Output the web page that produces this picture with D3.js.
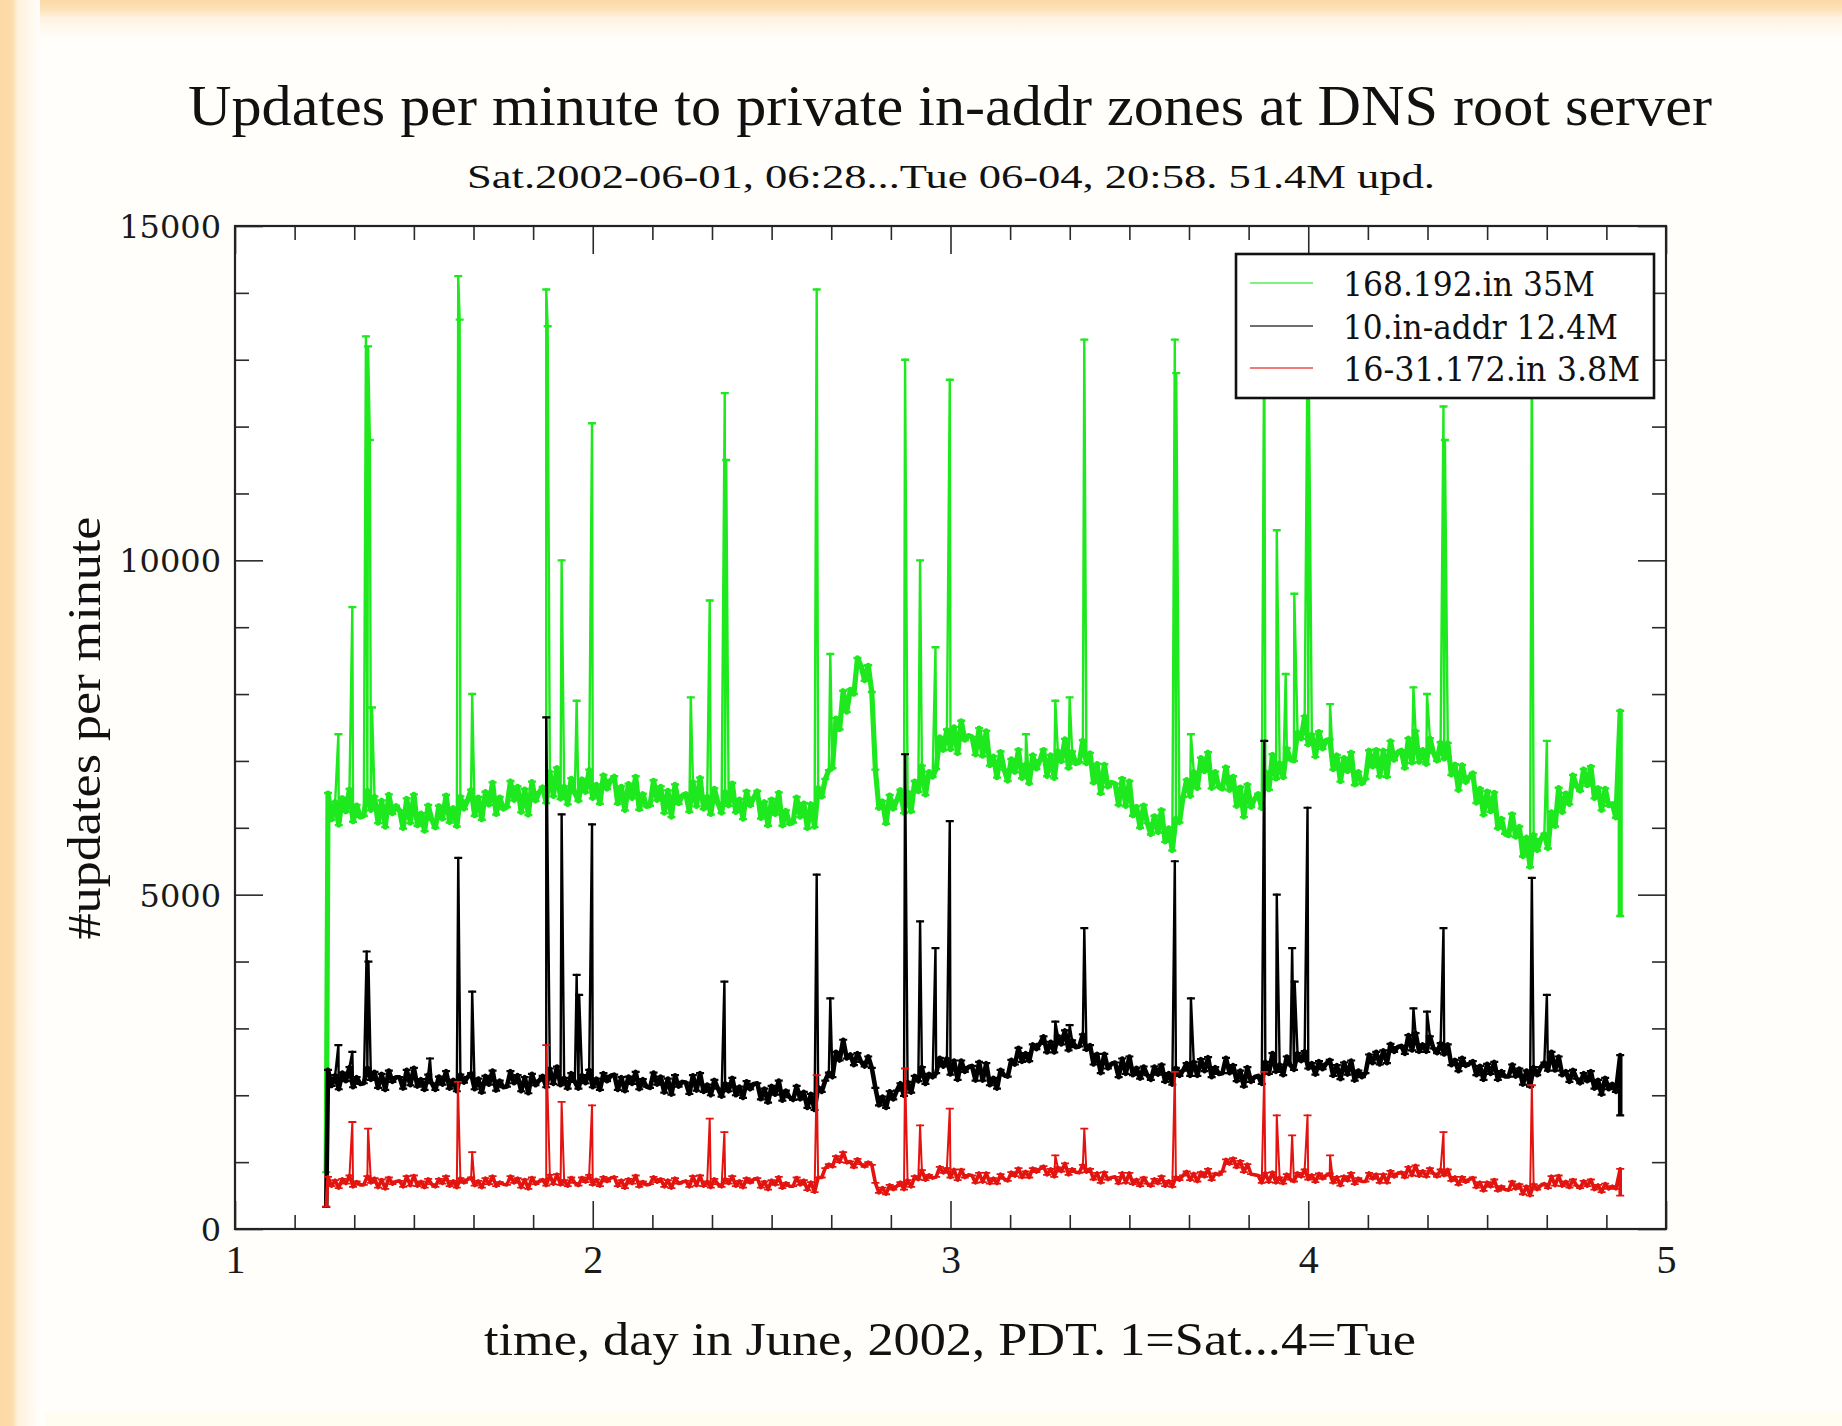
<!DOCTYPE html>
<html>
<head>
<meta charset="utf-8">
<script src="https://cdn.jsdelivr.net/npm/d3@7"></script>
<style>
html,body{margin:0;padding:0;background:#fffefb;}
svg{display:block;}
</style>
</head>
<body>
<svg id="chart" width="1842" height="1426"></svg>
<script>
// ---------------- data ----------------
const titleText = "Updates per minute to private in-addr zones at DNS root server";
const subtitleText = "Sat.2002-06-01, 06:28...Tue 06-04, 20:58. 51.4M upd.";
const xAxisTitle = "time, day in June, 2002, PDT. 1=Sat...4=Tue";
const yAxisTitle = "#updates per minute";

const xDomain = [1, 5];
const yDomain = [0, 15000];
const xTickValues = [1, 2, 3, 4, 5];
const xTickLabels = ["1", "2", "3", "4", "5"];
const yTickValues = [0, 5000, 10000, 15000];
const yTickLabels = ["0", "5000", "10000", "15000"];
const yMinorTicks = [1000, 2000, 3000, 4000, 6000, 7000, 8000, 9000, 11000, 12000, 13000, 14000];

const seriesNames = ["168.192.in 35M", "10.in-addr 12.4M", "16-31.172.in 3.8M"];
const seriesColors = ["#1ee81e", "#000000", "#e3140f"];

// sampled every 0.01 day starting at day 1.26
const firstDay = 1.26;
const dayStep = 0.01;
const startDay = 1.255;
const endDay = 4.872;

const greenValues = [
6520,6120,6390,6040,6450,6240,6580,6090,6340,6160,
6180,6560,6260,6470,6070,6410,6010,6500,6210,6330,
6260,5990,6440,6070,6500,6030,6220,5950,6340,6120,
6000,6330,6130,6490,6080,6300,6020,6470,6280,6410,
6570,6180,6460,6120,6540,6340,6680,6200,6460,6280,
6310,6700,6410,6620,6230,6580,6190,6690,6400,6530,
6610,6370,6840,6470,6900,6430,6620,6350,6740,6520,
6400,6730,6530,6870,6440,6650,6360,6790,6580,6710,
6770,6360,6620,6260,6660,6440,6770,6270,6510,6320,
6330,6710,6410,6620,6220,6560,6160,6650,6360,6480,
6510,6240,6690,6320,6750,6280,6470,6200,6590,6370,
6220,6540,6330,6670,6230,6430,6130,6550,6330,6450,
6550,6140,6390,6030,6430,6200,6530,6030,6260,6060,
6080,6460,6160,6370,5990,6360,6010,6600,6460,6730,
6860,6890,7640,7470,8050,7730,8070,8000,8540,8420,
8200,8430,8030,6870,6290,6400,6060,6490,6280,6410,
6570,6220,6540,6240,6700,6540,6930,6490,6840,6760,
6880,7360,7160,7470,7170,7510,7110,7600,7310,7380,
7360,7090,7490,7070,7450,6930,7070,6750,7140,6870,
6700,7030,6830,7170,6740,6950,6660,7090,6880,7010,
7170,6770,7090,6740,7150,6990,7330,6890,7140,6960,
6980,7310,6960,7120,6670,6960,6510,6950,6610,6680,
6660,6340,6740,6320,6700,6180,6320,6000,6340,6070,
5900,6180,5930,6270,5790,6000,5660,6140,6080,6460,
6720,6470,6840,6590,7050,6840,7130,6590,6840,6610,
6580,6910,6560,6770,6320,6610,6160,6650,6310,6430,
6510,6290,6840,6570,7100,6730,6970,6750,7190,7020,
7000,7430,7330,7670,7240,7400,7060,7440,7180,7310,
7320,6870,7090,6690,7050,6840,7130,6640,6840,6660,
6730,7160,6910,7170,6770,7160,6760,7300,7010,7130,
7160,6890,7340,6970,7450,6980,7170,6950,7340,7120,
7000,7280,7030,7270,6790,6950,6560,6940,6680,6760,
6820,6370,6590,6190,6550,6240,6530,5990,6140,5910,
5880,6210,5860,6020,5570,5860,5410,5900,5660,5830,
5910,5690,6240,6020,6600,6230,6520,6350,6790,6620,
6550,6880,6630,6920,6440,6600,6260,6590,6330,6360,
6150
];

const blackValues = [
2380,2140,2300,2090,2340,2210,2420,2120,2270,2170,
2180,2410,2230,2350,2110,2320,2080,2370,2200,2270,
2270,2100,2380,2150,2410,2130,2240,2080,2310,2180,
2080,2280,2160,2360,2100,2230,2060,2310,2190,2270,
2330,2090,2250,2040,2290,2160,2370,2070,2220,2120,
2130,2360,2180,2300,2060,2270,2030,2320,2150,2220,
2290,2120,2400,2170,2430,2150,2260,2100,2330,2200,
2100,2300,2180,2380,2120,2250,2080,2330,2210,2290,
2310,2080,2270,2060,2280,2170,2350,2090,2240,2130,
2110,2340,2160,2280,2040,2250,2010,2300,2130,2200,
2190,2020,2300,2070,2330,2050,2160,2000,2230,2100,
1980,2180,2060,2260,2000,2130,1960,2210,2090,2170,
2180,1940,2100,1890,2140,2010,2220,1920,2070,1970,
1930,2140,1940,2050,1810,2020,1780,2120,2050,2220,
2340,2270,2650,2520,2830,2550,2610,2450,2630,2500,
2430,2580,2410,2110,1850,1980,1810,2060,1940,2070,
2180,1990,2200,2040,2290,2210,2420,2170,2320,2270,
2330,2560,2430,2550,2310,2520,2230,2520,2350,2420,
2440,2220,2500,2220,2480,2150,2260,2100,2380,2300,
2280,2530,2460,2710,2500,2630,2510,2760,2690,2770,
2880,2640,2800,2640,2890,2760,2970,2670,2820,2720,
2730,2910,2680,2750,2460,2620,2330,2620,2400,2470,
2490,2270,2550,2320,2580,2300,2410,2250,2430,2300,
2230,2430,2310,2460,2200,2330,2160,2410,2290,2370,
2480,2290,2500,2290,2540,2360,2570,2270,2420,2320,
2330,2560,2330,2450,2210,2370,2130,2420,2200,2270,
2290,2170,2500,2320,2630,2350,2460,2300,2580,2450,
2380,2630,2510,2660,2400,2480,2310,2510,2390,2470,
2530,2290,2450,2240,2490,2310,2520,2220,2370,2270,
2330,2610,2480,2650,2460,2670,2480,2770,2650,2720,
2740,2620,2900,2670,2930,2650,2760,2650,2880,2700,
2630,2780,2610,2760,2450,2530,2360,2560,2440,2470,
2510,2300,2440,2230,2470,2320,2500,2230,2360,2280,
2280,2460,2280,2400,2160,2370,2130,2420,2300,2420,
2490,2370,2650,2370,2580,2300,2360,2200,2380,2250,
2180,2330,2210,2360,2100,2230,2010,2260,2090,2170,
2050
];

const redValues = [
780,640,730,610,750,680,800,630,710,660,
660,790,690,760,620,740,600,770,670,710,
720,630,790,650,800,640,710,620,750,670,
630,750,680,790,640,720,620,760,690,740,
770,650,720,620,760,670,790,640,700,670,
660,790,690,760,620,740,600,770,670,710,
740,650,810,670,820,660,730,640,770,690,
650,770,700,810,660,740,640,780,710,760,
780,640,730,610,750,680,800,630,710,660,
670,780,700,750,630,730,610,760,680,700,
720,630,790,650,800,640,710,620,750,670,
630,750,680,790,640,720,620,760,690,740,
760,620,710,590,730,660,780,610,690,640,
640,770,660,730,580,700,550,770,770,910,
970,930,1090,1000,1150,990,1010,920,1050,970,
930,1000,960,690,540,620,520,660,590,640,
700,590,730,630,790,740,880,730,810,760,
780,930,840,910,770,890,730,890,770,810,
800,690,840,700,840,680,760,680,820,750,
720,850,790,910,770,860,770,910,850,900,
940,810,900,780,920,860,980,810,900,850,
840,960,850,900,740,840,690,850,740,770,
780,680,840,690,840,670,740,640,770,680,
640,750,680,790,640,720,630,780,730,800,
860,730,830,710,850,780,900,730,830,810,
860,1040,970,1060,920,1020,850,970,820,810,
800,690,840,700,850,690,770,680,820,740,
710,840,780,890,740,810,700,830,750,800,
830,690,780,650,790,720,840,670,760,710,
710,840,750,820,690,820,690,870,780,830,
850,770,930,800,950,790,870,780,910,830,
780,890,800,890,720,780,660,780,700,740,
770,620,700,570,700,630,740,570,640,590,
580,710,600,670,520,640,500,670,590,650,
680,610,790,650,800,640,710,620,740,650,
610,720,640,740,590,660,550,680,600,640,
600
];

// spikes: [day, peak value]
const greenSpikes = [
[1.289,7400],[1.328,9300],[1.366,13350],[1.372,13200],[1.377,11800],[1.383,7800],
[1.624,14250],[1.628,13600],[1.663,8000],[1.870,14050],[1.874,13500],[1.913,10000],
[1.955,7900],[1.998,12050],[2.274,7950],[2.327,9400],[2.369,12500],[2.373,11500],
[2.626,14050],[2.664,8600],[2.873,13000],[2.915,10000],[2.958,8700],[2.998,12700],
[3.211,7400],[3.293,7900],[3.333,7950],[3.374,13300],[3.627,13300],[3.631,12800],
[3.672,7400],[3.877,13600],[3.912,10450],[3.937,8300],[3.961,9500],[3.998,13200],
[4.002,12500],[4.061,7850],[4.294,8100],[4.332,8000],[4.378,12300],[4.382,11800],
[4.625,13000],[4.667,7300]
];
const blackSpikes = [
[1.289,2750],[1.328,2650],[1.368,4150],[1.373,4000],[1.545,2550],[1.624,5550],
[1.663,3550],[1.870,7650],[1.913,6200],[1.955,3800],[1.962,3500],[1.998,6050],
[2.368,3700],[2.626,5300],[2.664,3450],[2.873,7100],[2.915,4600],[2.958,4200],
[2.998,6100],[3.293,3100],[3.333,3050],[3.374,4500],[3.627,5500],[3.672,3450],
[3.877,7300],[3.912,5000],[3.955,4200],[3.962,3700],[3.998,6300],[4.294,3300],
[4.332,3250],[4.378,4500],[4.625,5250],[4.667,3500]
];
const redSpikes = [
[1.328,1600],[1.372,1500],[1.623,2200],[1.663,1150],[1.870,2750],[1.913,1900],
[1.998,1850],[2.327,1650],[2.368,1450],[2.626,2300],[2.873,2400],[2.915,1550],
[2.998,1800],[3.293,1100],[3.374,1500],[3.627,2350],[3.877,2350],[3.912,1700],
[3.955,1400],[3.998,1700],[4.061,1100],[4.378,1450],[4.625,2150]
];

const startValues = [850, 330, 330];
const endValues = [[7750, 4680], [2600, 1700], [900, 500]];

// ---------------- drawing ----------------
const W = 1842, H = 1426;
const plot = {left: 235, right: 1666, top: 226, bottom: 1229};
const svg = d3.select("#chart");
const defs = svg.append("defs");

const gTop = defs.append("linearGradient").attr("id","gTop").attr("x1",0).attr("y1",0).attr("x2",0).attr("y2",1);
gTop.append("stop").attr("offset","0").attr("stop-color","#fcd9a6");
gTop.append("stop").attr("offset","0.25").attr("stop-color","#fde2b9");
gTop.append("stop").attr("offset","0.45").attr("stop-color","#fff3e2");
gTop.append("stop").attr("offset","1").attr("stop-color","#fffefb");
const gLeft = defs.append("linearGradient").attr("id","gLeft").attr("x1",0).attr("y1",0).attr("x2",1).attr("y2",0);
gLeft.append("stop").attr("offset","0").attr("stop-color","#fcd9a6");
gLeft.append("stop").attr("offset","0.3").attr("stop-color","#fcdcab");
gLeft.append("stop").attr("offset","0.45").attr("stop-color","#fff1dc");
gLeft.append("stop").attr("offset","1").attr("stop-color","#fffefb");

// page background
svg.append("rect").attr("x",0).attr("y",0).attr("width",W).attr("height",H).attr("fill","#fffefb");
svg.append("rect").attr("x",0).attr("y",0).attr("width",W).attr("height",40).attr("fill","url(#gTop)");
svg.append("rect").attr("x",0).attr("y",0).attr("width",40).attr("height",H).attr("fill","url(#gLeft)");
svg.append("rect").attr("x",45).attr("y",1413).attr("width",W-45).attr("height",13).attr("fill","#fffcf0");

const x = d3.scaleLinear().domain(xDomain).range([plot.left, plot.right]);
const y = d3.scaleLinear().domain(yDomain).range([plot.bottom, plot.top]);

// plot area fill
svg.append("rect").attr("x",plot.left).attr("y",plot.top)
  .attr("width",plot.right-plot.left).attr("height",plot.bottom-plot.top).attr("fill","#ffffff");

function basePoints(values, startVal, ends){
  const pts = values.map((v,i)=>[firstDay + i*dayStep, v]);
  pts.unshift([startDay, startVal]);
  ends.forEach(v=>pts.push([endDay, v]));
  return pts;
}
function buildSeries(values, spikes, startVal, ends){
  const pts = values.map((v,i)=>[firstDay + i*dayStep, v]);
  spikes.forEach(s=>pts.push([s[0], s[1]]));
  pts.sort((a,b)=>a[0]-b[0]);
  pts.unshift([startDay, startVal]);
  ends.forEach(v=>pts.push([endDay, v]));
  return pts;
}

const valueSets = [greenValues, blackValues, redValues];
const spikeSets = [greenSpikes, blackSpikes, redSpikes];
const baseSeries = valueSets.map((v,i)=>basePoints(v, startValues[i], endValues[i]));
const allSeries = valueSets.map((v,i)=>buildSeries(v, spikeSets[i], startValues[i], endValues[i]));

const line = d3.line().x(d=>x(d[0])).y(d=>y(d[1]));

svg.append("clipPath").attr("id","clip").append("rect")
  .attr("x",plot.left).attr("y",plot.top).attr("width",plot.right-plot.left).attr("height",plot.bottom-plot.top);
const dataG = svg.append("g").attr("clip-path","url(#clip)");

const bandWidths = [5.2, 4.6, 3.6];
const lineWidths = [2.4, 2.4, 2.0];
const markerWidths = [2.4, 2.2, 1.8];
allSeries.forEach((pts, si)=>{
  // dense per-minute scatter: thick stroke through the background samples
  dataG.append("path").datum(baseSeries[si])
    .attr("fill","none")
    .attr("stroke",seriesColors[si])
    .attr("stroke-width",bandWidths[si])
    .attr("stroke-linejoin","round")
    .attr("d",line);
  dataG.append("path").datum(pts)
    .attr("fill","none")
    .attr("stroke",seriesColors[si])
    .attr("stroke-width",lineWidths[si])
    .attr("stroke-linejoin","round")
    .attr("d",line);
  // small "+"-style symbols at every sample (as in the original plot)
  dataG.append("path")
    .attr("fill","none")
    .attr("stroke",seriesColors[si])
    .attr("stroke-width",markerWidths[si])
    .attr("d", pts.map(d=>`M${x(d[0])-4},${y(d[1])}h8`).join(""));
});

// axes (ticks inward on all four sides)
const tickColor = "#2a2a2a";
function styleAxis(g){
  g.select(".domain").remove();
  g.selectAll(".tick line").attr("stroke",tickColor).attr("stroke-width",1.6);
}
const xMinorTicks = d3.range(0, 25).map(i=>1 + i/6).filter(v=>Math.abs(v-Math.round(v))>1e-6);

// bottom
svg.append("g").attr("transform",`translate(0,${plot.bottom})`)
  .call(d3.axisBottom(x).tickValues(xMinorTicks).tickFormat("").tickSize(-14)).call(styleAxis);
const xb = svg.append("g").attr("transform",`translate(0,${plot.bottom})`)
  .call(d3.axisBottom(x).tickValues(xTickValues).tickFormat((d,i)=>xTickLabels[i]).tickSize(-28)).call(styleAxis);
xb.selectAll(".tick text").attr("y",44).attr("dy",0)
  .attr("font-family","'Liberation Serif', 'Times New Roman', serif").attr("font-size",40).attr("fill","#1a1a1a");
// top
svg.append("g").attr("transform",`translate(0,${plot.top})`)
  .call(d3.axisTop(x).tickValues(xMinorTicks).tickFormat("").tickSize(-14)).call(styleAxis);
svg.append("g").attr("transform",`translate(0,${plot.top})`)
  .call(d3.axisTop(x).tickValues(xTickValues).tickFormat("").tickSize(-28)).call(styleAxis);
// left
svg.append("g").attr("transform",`translate(${plot.left},0)`)
  .call(d3.axisLeft(y).tickValues(yMinorTicks).tickFormat("").tickSize(-14)).call(styleAxis);
const yl = svg.append("g").attr("transform",`translate(${plot.left},0)`)
  .call(d3.axisLeft(y).tickValues(yTickValues).tickFormat((d,i)=>yTickLabels[i]).tickSize(-28).tickPadding(14)).call(styleAxis);
yl.selectAll(".tick text")
  .attr("font-family","'DejaVu Serif', serif").attr("font-size",32).attr("fill","#1a1a1a").attr("dy","0.36em");
// right
svg.append("g").attr("transform",`translate(${plot.right},0)`)
  .call(d3.axisRight(y).tickValues(yMinorTicks).tickFormat("").tickSize(-14)).call(styleAxis);
svg.append("g").attr("transform",`translate(${plot.right},0)`)
  .call(d3.axisRight(y).tickValues(yTickValues).tickFormat("").tickSize(-28)).call(styleAxis);

// frame
svg.append("rect").attr("x",plot.left).attr("y",plot.top)
  .attr("width",plot.right-plot.left).attr("height",plot.bottom-plot.top)
  .attr("fill","none").attr("stroke","#222").attr("stroke-width",2.2);

// legend
const legend = svg.append("g");
legend.append("rect").attr("x",1236).attr("y",254).attr("width",418).attr("height",144)
  .attr("fill","#ffffff").attr("stroke","#111").attr("stroke-width",2.6);
const legendRowsY = [283, 326, 368];
const legendTextLen = [252, 275, 297];
seriesNames.forEach((name,i)=>{
  legend.append("line").attr("x1",1250).attr("x2",1313).attr("y1",legendRowsY[i]).attr("y2",legendRowsY[i])
    .attr("stroke",seriesColors[i]).attr("stroke-width",1.4).attr("opacity",0.75);
  legend.append("text").attr("x",1343).attr("y",legendRowsY[i]+13)
    .attr("font-family","'DejaVu Serif', serif").attr("font-size",33).attr("fill","#111")
    .attr("textLength",legendTextLen[i]).attr("lengthAdjust","spacingAndGlyphs")
    .text(name);
});

// titles
svg.append("text").attr("x",950).attr("y",125).attr("text-anchor","middle")
  .attr("font-family","'Liberation Serif', 'Times New Roman', serif").attr("font-size",56).attr("fill","#111")
  .attr("textLength",1524).attr("lengthAdjust","spacingAndGlyphs").text(titleText);
svg.append("text").attr("x",951).attr("y",188).attr("text-anchor","middle")
  .attr("font-family","'Liberation Serif', 'Times New Roman', serif").attr("font-size",33).attr("fill","#111")
  .attr("textLength",968).attr("lengthAdjust","spacingAndGlyphs").text(subtitleText);
svg.append("text").attr("x",950).attr("y",1355).attr("text-anchor","middle")
  .attr("font-family","'Liberation Serif', 'Times New Roman', serif").attr("font-size",47).attr("fill","#111")
  .attr("textLength",932).attr("lengthAdjust","spacingAndGlyphs").text(xAxisTitle);
svg.append("text").attr("transform","translate(100,728) rotate(-90)").attr("text-anchor","middle")
  .attr("font-family","'Liberation Serif', 'Times New Roman', serif").attr("font-size",47).attr("fill","#111")
  .attr("textLength",423).attr("lengthAdjust","spacingAndGlyphs").text(yAxisTitle);
</script>
</body>
</html>
